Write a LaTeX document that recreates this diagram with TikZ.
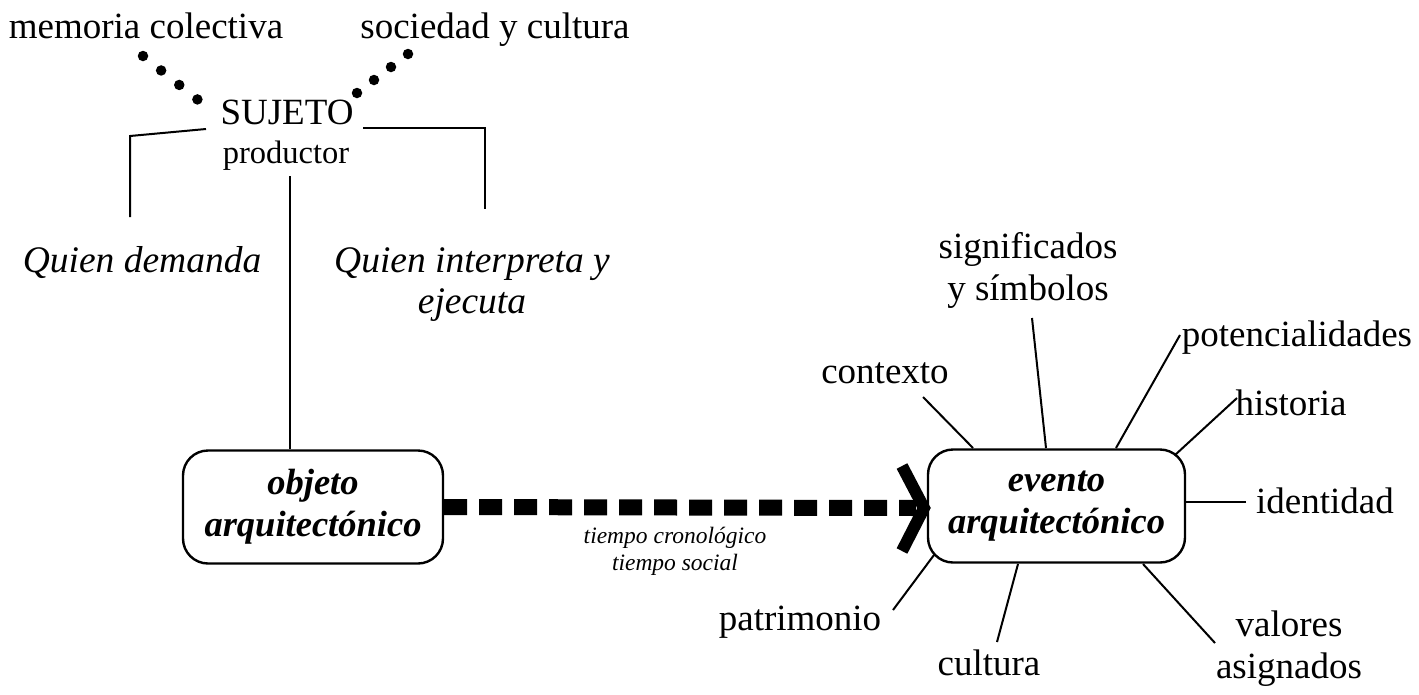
\documentclass[tikz,border=0pt]{standalone}
\usepackage{fontspec}
\setmainfont{Liberation Serif}
\begin{document}
\begin{tikzpicture}[x=1pt,y=-1pt,
  txt/.style={inner sep=0pt, anchor=base, align=center, font=\fontsize{37}{42}\selectfont},
  itxt/.style={inner sep=0pt, anchor=base, align=center, font=\fontsize{37.5}{41}\selectfont\itshape},
  smalltxt/.style={inner sep=0pt, anchor=base, align=center, font=\fontsize{23.5}{27}\selectfont\itshape},
  boxnode/.style={draw, line width=2.4pt, rounded corners=25pt, minimum width=260pt, minimum height=113pt, inner sep=0pt, align=center, font=\fontsize{36.5}{42}\selectfont\bfseries\itshape},
  thin/.style={line width=2pt},
  dotline/.style={line width=10.5pt, line cap=round, dash pattern=on 0pt off #1},
  dashline/.style={line width=16pt, dash pattern=on 23pt off 12pt},
  chev/.style={line width=12pt, line join=miter}]
\useasboundingbox (0,0) rectangle (1419,694);

% top texts (base anchor = baseline of the last line)
\node[txt] (mem) at (146,38) {memoria colectiva};
\node[txt] (soc) at (495,38) {sociedad y cultura};
\node[txt] (suj) at (287,124) {SUJETO};
\node[txt, font=\fontsize{32.5}{38}\selectfont] (prod) at (286,163) {productor};
\node[itxt] (dem) at (142,272) {Quien demanda};
\node[itxt] (int) at (472,313) {Quien interpreta y\\ejecuta};

% dotted links
\coordinate (dl1) at (143,56);
\coordinate (dl2) at (197.5,99.5);
\coordinate (dr1) at (357,93);
\coordinate (dr2) at (408,54);
\draw[dotline=23.2pt] (dl1) -- (dl2);
\draw[dotline=21.4pt] (dr1) -- (dr2);

% brackets
\coordinate (lb1) at (130,217);
\coordinate (lb2) at (130,136);
\coordinate (lb3) at (206,129);
\coordinate (rb1) at (363,128);
\coordinate (rb2) at (485,128);
\coordinate (rb3) at (485,209);
\draw[thin] (lb1) -- (lb2) -- (lb3);
\draw[thin] (rb1) -- (rb2) -- (rb3);

% boxes
\node[boxnode] (obj) at (313,507) {objeto\\arquitectónico};
\node[boxnode, minimum width=257pt] (evt) at (1056.5,506) {evento\\arquitectónico};

% vertical from subject to object
\coordinate (m1) at (290,176);
\draw[thin] (m1) -- (m1 |- obj.north);

% dashed time arrow
\coordinate (ae) at (916,508);
\coordinate (tip) at (924,508);
\coordinate (ch1) at (902,466);
\coordinate (ch2) at (902,551);
\draw[dashline] (obj.east) -- (ae);
\draw[chev] (ch1) -- (tip) -- (ch2);
\node[smalltxt] (tc) at (675,570) {tiempo cronológico\\tiempo social};

% spoke labels
\node[txt] (ctx) at (885,383) {contexto};
\node[txt] (sig) at (1028,300) {significados\\y símbolos};
\node[txt] (pot) at (1297,346) {potencialidades};
\node[txt] (his) at (1291,415) {historia};
\node[txt] (ide) at (1325,513) {identidad};
\node[txt] (val) at (1289,678) {valores\\asignados};
\node[txt] (cul) at (989,675) {cultura};
\node[txt] (pat) at (800,630) {patrimonio};

% spokes
\coordinate (ctxa) at (923,397);  \coordinate (ctxb) at (973,448);
\coordinate (siga) at (1032,318); \coordinate (sigb) at (1046,448);
\coordinate (pota) at (1180,335); \coordinate (potb) at (1116,448);
\coordinate (hisa) at (1237,398); \coordinate (hisb) at (1175,455);
\coordinate (idea) at (1246,502); \coordinate (ideb) at (1185,502);
\coordinate (vala) at (1215,643); \coordinate (valb) at (1143,564);
\coordinate (cula) at (997,642);  \coordinate (culb) at (1018,564);
\coordinate (pata) at (893,610);  \coordinate (patb) at (934,555);
\foreach \s in {ctx,sig,pot,his,ide,val,cul,pat}
  \draw[thin] (\s a) -- (\s b);
\end{tikzpicture}
\end{document}
